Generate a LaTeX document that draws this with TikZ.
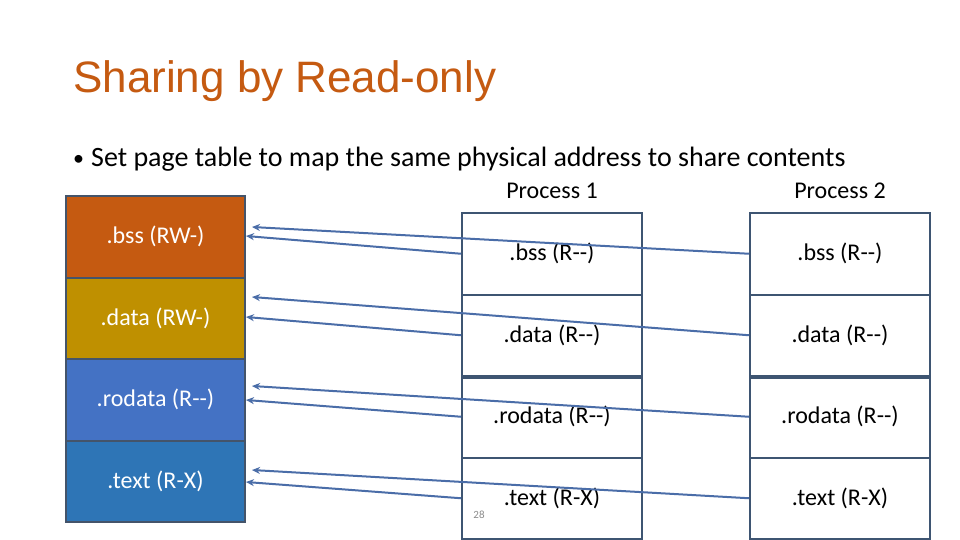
\documentclass[tikz,border=0pt]{standalone}
\usepackage{fontspec}
\setmainfont{Carlito}
\newfontfamily\arialfont{Liberation Sans}
\usetikzlibrary{arrows.meta}
\definecolor{titlecol}{HTML}{C55A11}
\definecolor{bsscol}{HTML}{C55A11}
\definecolor{datacol}{HTML}{BF9000}
\definecolor{rodatacol}{HTML}{4472C4}
\definecolor{textcol}{HTML}{2E75B6}
\definecolor{segborder}{HTML}{44546A}
\definecolor{tabborder}{HTML}{3E5572}
\definecolor{arrowcol}{HTML}{4A6DA8}
\definecolor{pagenum}{HTML}{8C8C8C}
\begin{document}
\begin{tikzpicture}[x=1pt,y=-1pt,
  seg/.style={draw=segborder, line width=2pt, minimum width=179pt, minimum height=81.5pt,
    inner sep=0pt, text=white, font=\fontsize{24}{28}\selectfont},
  cell/.style={draw=tabborder, line width=2pt, minimum width=180pt, minimum height=81.5pt,
    inner sep=0pt, text=black, font=\fontsize{24}{28}\selectfont},
  lbl/.style={inner sep=0pt, anchor=base, font=\fontsize{24}{28}\selectfont},
  maparrow/.style={draw=arrowcol, line width=2pt, -{Stealth[length=8pt,width=7pt]}},
  thicksep/.style={draw=tabborder, line width=3.5pt}]
\useasboundingbox (0,0) rectangle (960,540);
\fill[white] (0,0) rectangle (960,540);

% title and bullet
\node[anchor=base west, inner sep=0pt, text=titlecol, font=\arialfont\fontsize{44}{50}\selectfont] (title) at (73,93) {Sharing by Read-only};
\node[anchor=base west, inner sep=0pt, font=\fontsize{22}{26}\selectfont] (bullet) at (73,166) {•};
\node[anchor=base west, inner sep=0pt, font=\fontsize{28}{32}\selectfont] (bullettext) at (91,167) {Set page table to map the same physical address to share contents};

% left: physical memory segments
\node[seg, fill=bsscol]    (lbss)    at (155.5,236.75) {.bss (RW-)};
\node[seg, fill=datacol]   (ldata)   at (155.5,318.25) {.data (RW-)};
\node[seg, fill=rodatacol] (lrodata) at (155.5,399.75) {.rodata (R-{}-)};
\node[seg, fill=textcol]   (ltext)   at (155.5,481.25) {.text (R-X)};

% process labels
\node[lbl] (proc1) at (552,198) {Process 1};
\node[lbl] (proc2) at (840,198) {Process 2};

% process 1 table
\node[cell] (p1bss)    at (552,253.75) {.bss (R-{}-)};
\node[cell] (p1data)   at (552,335.25) {.data (R-{}-)};
\node[cell] (p1rodata) at (552,416.75) {.rodata (R-{}-)};
\node[cell] (p1text)   at (552,498.25) {.text (R-X)};
% process 2 table
\node[cell] (p2bss)    at (840,253.75) {.bss (R-{}-)};
\node[cell] (p2data)   at (840,335.25) {.data (R-{}-)};
\node[cell] (p2rodata) at (840,416.75) {.rodata (R-{}-)};
\node[cell] (p2text)   at (840,498.25) {.text (R-X)};
\draw[thicksep] (p1data.south west) -- (p1data.south east);
\draw[thicksep] (p2data.south west) -- (p2data.south east);

% page number
\node[inner sep=0pt, text=pagenum, font=\fontsize{11}{13}\selectfont] (pagenumber) at (479,515) {28};

% arrow tips
\coordinate (tbssA)  at (252,227);
\coordinate (tbssB)  at (246,236);
\coordinate (tdataA) at (252,297);
\coordinate (tdataB) at (246,317);
\coordinate (trodA)  at (252,386);
\coordinate (trodB)  at (246,400);
\coordinate (ttextA) at (252,470);
\coordinate (ttextB) at (246,482);

% mapping arrows
\draw[maparrow] (p2bss.west)    -- (tbssA);
\draw[maparrow] (p1bss.west)    -- (tbssB);
\draw[maparrow] (p2data.west)   -- (tdataA);
\draw[maparrow] (p1data.west)   -- (tdataB);
\draw[maparrow] (p2rodata.west) -- (trodA);
\draw[maparrow] (p1rodata.west) -- (trodB);
\draw[maparrow] (p2text.west)   -- (ttextA);
\draw[maparrow] (p1text.west)   -- (ttextB);
\end{tikzpicture}
\end{document}
